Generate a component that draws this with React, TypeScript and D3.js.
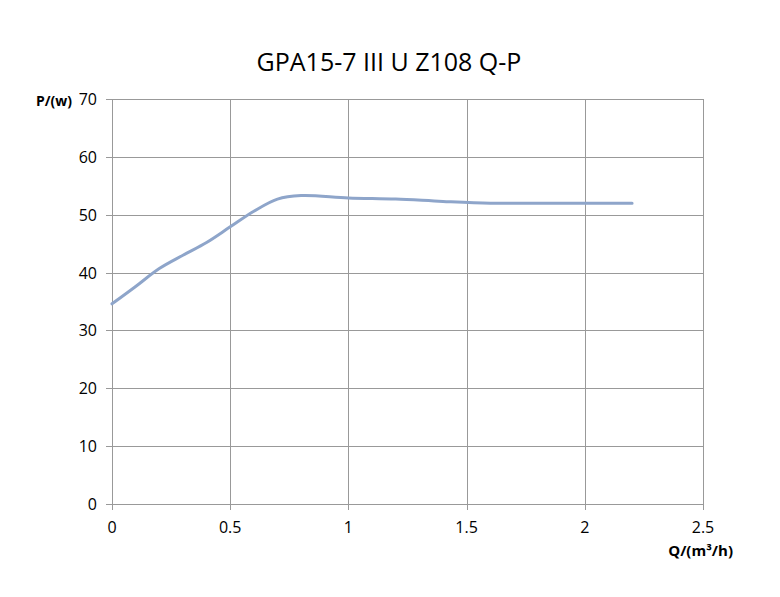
import React, { useEffect, useRef } from 'react'
import * as d3 from 'd3'

// Q-P curve
const flow = [0, 0.1, 0.2, 0.3, 0.4, 0.5, 0.6, 0.7, 0.8, 1.0, 1.2, 1.4, 1.6, 1.8, 2.0, 2.2]
const power = [34.6, 37.6, 40.7, 43.0, 45.2, 47.9, 50.6, 52.7, 53.3, 52.9, 52.7, 52.3, 52.0, 52.0, 52.0, 52.0]
const xTicks = [0, 0.5, 1, 1.5, 2, 2.5]
const yTicks = [0, 10, 20, 30, 40, 50, 60, 70]

const title = 'GPA15-7 III U Z108 Q-P'
const font = "'Open Sans', 'Noto Sans', sans-serif"

const App = () => {
    const ref = useRef<SVGSVGElement>(null)

    useEffect(() => {
        const svg = d3.select(ref.current)
        svg.selectAll('*').remove()

        const left = 112
        const right = 703
        const top = 99
        const bottom = 504

        const x = d3.scaleLinear().domain([0, 2.5]).range([left, right])
        const y = d3.scaleLinear().domain([0, 70]).range([bottom, top])

        svg.append('rect').attr('width', 780).attr('height', 597).attr('fill', '#fff')

        // gridlines
        const grid = svg.append('g').attr('stroke', '#999').attr('stroke-width', 1)
        yTicks.forEach((t) => {
            grid.append('line')
                .attr('x1', left - 6).attr('x2', right)
                .attr('y1', Math.round(y(t)) + 0.5).attr('y2', Math.round(y(t)) + 0.5)
        })
        xTicks.forEach((t) => {
            grid.append('line')
                .attr('x1', Math.round(x(t)) + 0.5).attr('x2', Math.round(x(t)) + 0.5)
                .attr('y1', top).attr('y2', bottom + 6)
        })

        // tick labels
        svg.append('g')
            .selectAll('text')
            .data(yTicks)
            .enter()
            .append('text')
            .attr('x', 97)
            .attr('y', (d) => y(d) + 6)
            .attr('text-anchor', 'end')
            .attr('font-family', font)
            .attr('font-size', 16)
            .attr('fill', '#000')
            .text((d) => d)

        svg.append('g')
            .selectAll('text')
            .data(xTicks)
            .enter()
            .append('text')
            .attr('x', (d) => x(d))
            .attr('y', 533)
            .attr('text-anchor', 'middle')
            .attr('font-family', font)
            .attr('font-size', 16)
            .attr('fill', '#000')
            .text((d) => d)

        // the curve
        const points = flow.map((q, i) => [q, power[i]] as [number, number])
        const line = d3.line<[number, number]>()
            .x((d) => x(d[0]))
            .y((d) => y(d[1]))
            .curve(d3.curveCatmullRom.alpha(0.5))

        svg.append('path')
            .datum(points)
            .attr('d', line)
            .attr('fill', 'none')
            .attr('stroke', '#8EA5CA')
            .attr('stroke-width', 3)
            .attr('stroke-linecap', 'round')

        // axis titles
        svg.append('text')
            .attr('x', 72).attr('y', 106)
            .attr('text-anchor', 'end')
            .attr('font-family', font)
            .attr('font-size', 14)
            .attr('font-weight', 'bold')
            .text('P/(w)')

        svg.append('text')
            .attr('x', 733).attr('y', 556)
            .attr('text-anchor', 'end')
            .attr('font-family', font)
            .attr('font-size', 15)
            .attr('font-weight', 'bold')
            .text('Q/(m³/h)')

        svg.append('text')
            .attr('x', 389).attr('y', 71)
            .attr('text-anchor', 'middle')
            .attr('font-family', font)
            .attr('font-size', 25)
            .text(title)
    })

    return <svg ref={ref} width={780} height={597} style={{ display: 'block', margin: -8 }} />
}

export default App
